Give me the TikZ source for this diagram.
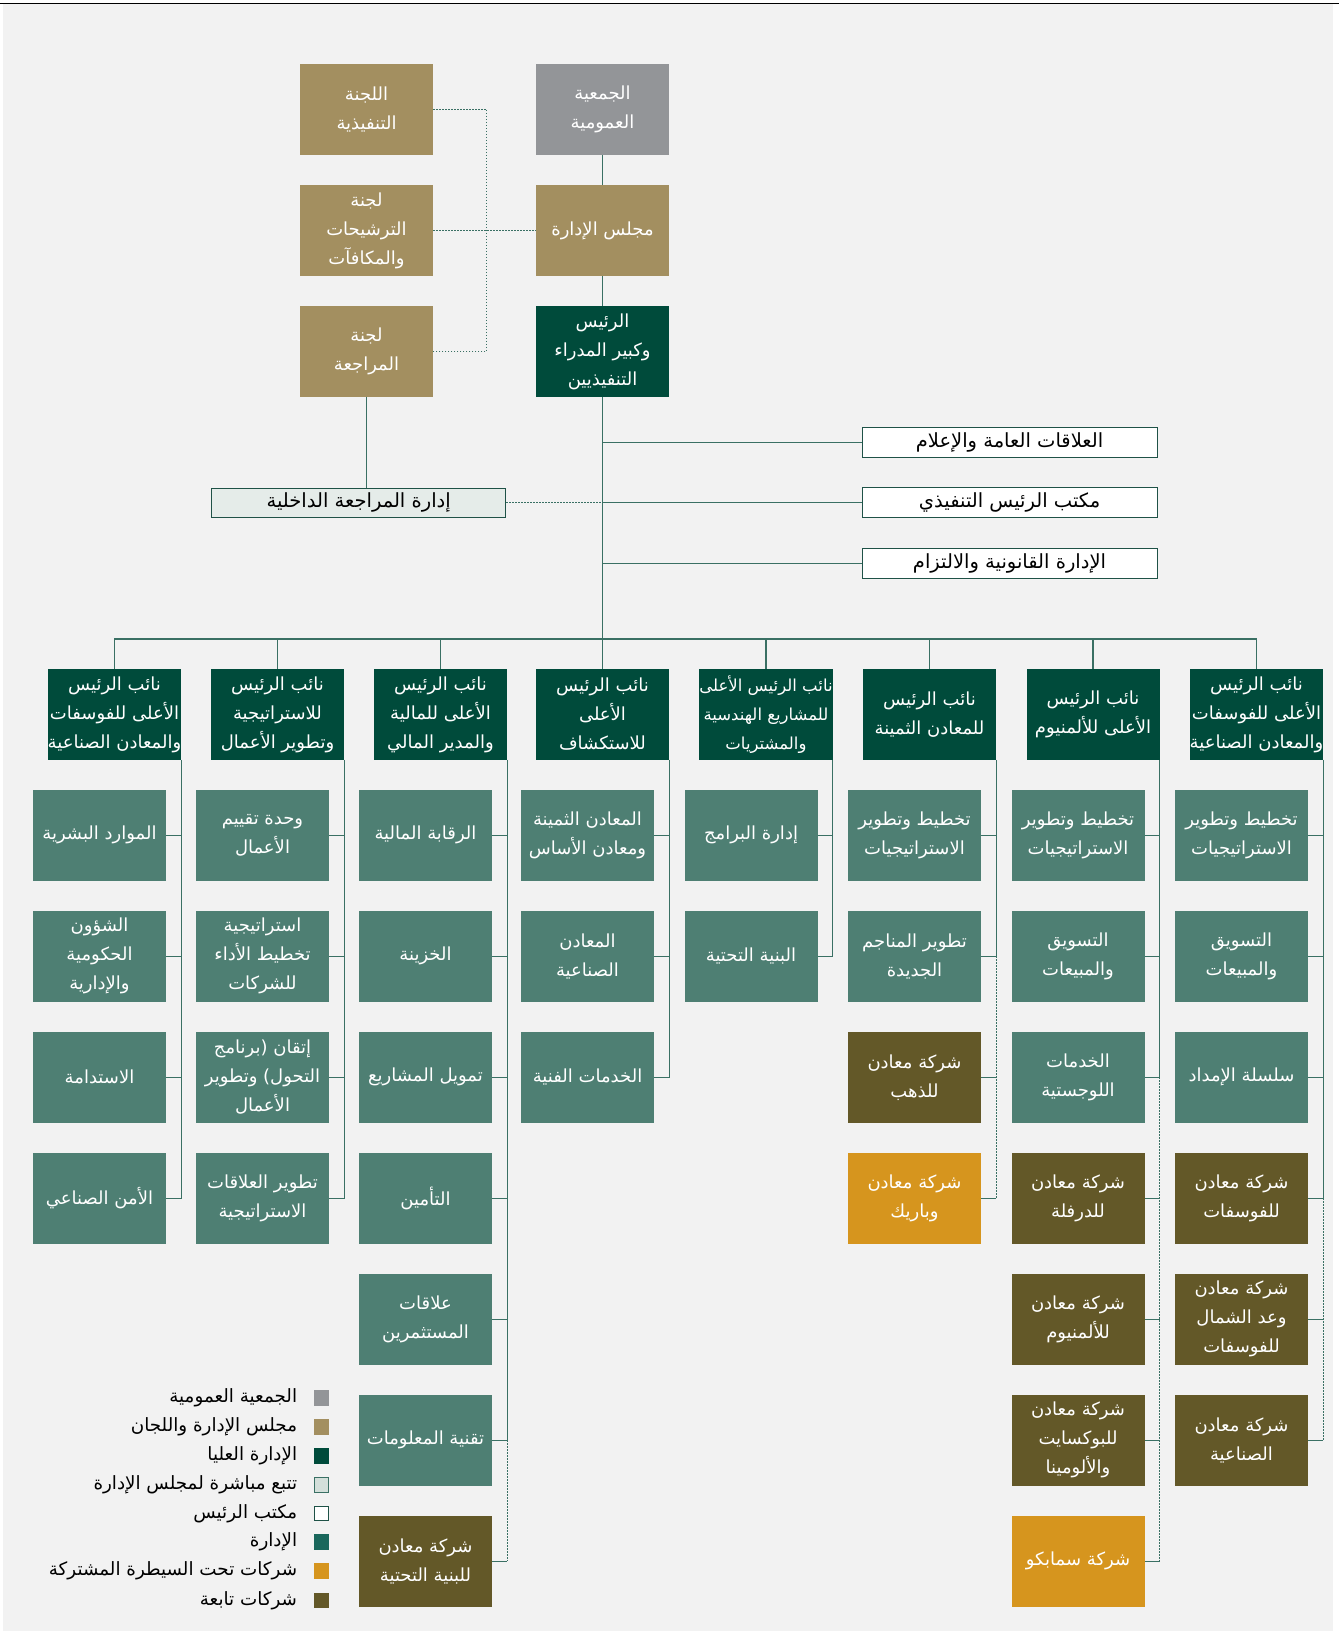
\documentclass[tikz,border=0pt]{standalone}
\usepackage{fontspec}
\newfontfamily\arabicfont[Script=Arabic]{DejaVu Sans}
\TeXXeTstate=1
\usetikzlibrary{positioning}

\definecolor{bgc}{HTML}{F2F2F2}
\definecolor{assemblyc}{HTML}{939598}
\definecolor{boardc}{HTML}{A38F60}
\definecolor{seniorc}{HTML}{004B3B}
\definecolor{deptc}{HTML}{4E7F73}
\definecolor{deptkey}{HTML}{1A675C}
\definecolor{subc}{HTML}{635828}
\definecolor{jointc}{HTML}{D6951E}
\definecolor{auditfill}{HTML}{E5ECE9}
\definecolor{auditkey}{HTML}{D3DFDA}
\definecolor{officeline}{HTML}{1F5247}
\definecolor{linec}{HTML}{3A7064}

\newcommand{\arl}[1]{\beginR #1\endR}

\begin{document}
\begin{tikzpicture}[x=1pt,y=-1pt,
	box/.style={minimum width=133pt,minimum height=90.5pt,inner sep=0pt,align=center,text=white,font=\arabicfont\fontsize{18}{29}\selectfont},
	assembly/.style={box,fill=assemblyc},
	board/.style={box,fill=boardc},
	senior/.style={box,fill=seniorc},
	dept/.style={box,fill=deptc},
	sub/.style={box,fill=subc},
	joint/.style={box,fill=jointc},
	office/.style={draw=officeline,line width=1pt,fill=white,minimum width=295pt,minimum height=30pt,inner sep=0pt,font=\arabicfont\fontsize{19.5}{22}\selectfont},
	solidline/.style={draw=linec,line width=1.3pt},
	dotline/.style={draw=linec,line width=1.3pt,dash pattern=on 1.5pt off 1.5pt},
	key/.style={minimum width=15pt,minimum height=15.5pt,inner sep=0pt},
	keytext/.style={inner sep=0pt,font=\arabicfont\fontsize{18.3}{22}\selectfont}]
	\useasboundingbox (0,0) rectangle (1339,1631);
	\fill[bgc] (3,4) rectangle (1333,1631);
	\draw[black,line width=1.2pt] (0,3.4) -- (1339,3.4);

	% board and committees
	\node[board] (exec) at (366.5,109.5) {\arl{اللجنة}\\\arl{التنفيذية}};
	\node[assembly] (assembly) at (602.5,109.5) {\arl{الجمعية}\\\arl{العمومية}};
	\node[board] (nomin) at (366.5,230.5) {\arl{لجنة}\\\arl{الترشيحات}\\\arl{والمكافآت}};
	\node[board] (bod) at (602.5,230.5) {\arl{مجلس الإدارة}};
	\node[board] (auditc) at (366.5,351.5) {\arl{لجنة}\\\arl{المراجعة}};
	\node[senior] (ceo) at (602.5,351.5) {\arl{الرئيس}\\\arl{وكبير المدراء}\\\arl{التنفيذيين}};

	\node[office,fill=auditfill,minimum width=294pt,minimum height=29pt] (intaudit) at (358.7,502.8) {\arl{إدارة المراجعة الداخلية}};
	\node[office] (pr) at (1009.5,442.3) {\arl{العلاقات العامة والإعلام}};
	\node[office] (ceooffice) at (1009.5,502.7) {\arl{مكتب الرئيس التنفيذي}};
	\node[office] (legal) at (1009.5,563.3) {\arl{الإدارة القانونية والالتزام}};

	% vice presidents
	\node[senior] (vp1) at (114.5,714.5) {\arl{نائب الرئيس}\\\arl{الأعلى للفوسفات}\\\arl{والمعادن الصناعية}};
	\node[senior] (vp2) at (277.5,714.5) {\arl{نائب الرئيس}\\\arl{للاستراتيجية}\\\arl{وتطوير الأعمال}};
	\node[senior] (vp3) at (440.5,714.5) {\arl{نائب الرئيس}\\\arl{الأعلى للمالية}\\\arl{والمدير المالي}};
	\node[senior] (vp4) at (602.5,714.5) {\arl{نائب الرئيس}\\\arl{الأعلى}\\\arl{للاستكشاف}};
	\node[senior,font=\arabicfont\fontsize{16.5}{29}\selectfont] (vp5) at (766,714.5) {\arl{نائب الرئيس الأعلى}\\\arl{للمشاريع الهندسية}\\\arl{والمشتريات}};
	\node[senior] (vp6) at (929.5,714.5) {\arl{نائب الرئيس}\\\arl{للمعادن الثمينة}};
	\node[senior] (vp7) at (1093,714.5) {\arl{نائب الرئيس}\\\arl{الأعلى للألمنيوم}};
	\node[senior] (vp8) at (1256.5,714.5) {\arl{نائب الرئيس}\\\arl{الأعلى للفوسفات}\\\arl{والمعادن الصناعية}};

	% column 1
	\node[dept] (hr) at (99.5,835.3) {\arl{الموارد البشرية}};
	\node[dept] (govaff) at (99.5,956.3) {\arl{الشؤون}\\\arl{الحكومية}\\\arl{والإدارية}};
	\node[dept] (sustain) at (99.5,1077.3) {\arl{الاستدامة}};
	\node[dept] (security) at (99.5,1198.3) {\arl{الأمن الصناعي}};
	% column 2
	\node[dept] (bizeval) at (262.5,835.3) {\arl{وحدة تقييم}\\\arl{الأعمال}};
	\node[dept] (perfplan) at (262.5,956.3) {\arl{استراتيجية}\\\arl{تخطيط الأداء}\\\arl{للشركات}};
	\node[dept] (itqan) at (262.5,1077.3) {\arl{إتقان (برنامج}\\\arl{التحول) وتطوير}\\\arl{الأعمال}};
	\node[dept] (stratrel) at (262.5,1198.3) {\arl{تطوير العلاقات}\\\arl{الاستراتيجية}};
	% column 3
	\node[dept] (finctrl) at (425.5,835.3) {\arl{الرقابة المالية}};
	\node[dept] (treasury) at (425.5,956.3) {\arl{الخزينة}};
	\node[dept] (projfin) at (425.5,1077.3) {\arl{تمويل المشاريع}};
	\node[dept] (insur) at (425.5,1198.3) {\arl{التأمين}};
	\node[dept] (investor) at (425.5,1319.3) {\arl{علاقات}\\\arl{المستثمرين}};
	\node[dept] (infotech) at (425.5,1440.3) {\arl{تقنية المعلومات}};
	\node[sub] (infraco) at (425.5,1561.3) {\arl{شركة معادن}\\\arl{للبنية التحتية}};
	% column 4
	\node[dept] (preciousm) at (587.5,835.3) {\arl{المعادن الثمينة}\\\arl{ومعادن الأساس}};
	\node[dept] (industm) at (587.5,956.3) {\arl{المعادن}\\\arl{الصناعية}};
	\node[dept] (techserv) at (587.5,1077.3) {\arl{الخدمات الفنية}};
	% column 5
	\node[dept] (programs) at (751,835.3) {\arl{إدارة البرامج}};
	\node[dept] (infra) at (751,956.3) {\arl{البنية التحتية}};
	% column 6
	\node[dept] (strat6) at (914.5,835.3) {\arl{تخطيط وتطوير}\\\arl{الاستراتيجيات}};
	\node[dept] (newmines) at (914.5,956.3) {\arl{تطوير المناجم}\\\arl{الجديدة}};
	\node[sub] (goldco) at (914.5,1077.3) {\arl{شركة معادن}\\\arl{للذهب}};
	\node[joint] (barrick) at (914.5,1198.3) {\arl{شركة معادن}\\\arl{وباريك}};
	% column 7
	\node[dept] (strat7) at (1078,835.3) {\arl{تخطيط وتطوير}\\\arl{الاستراتيجيات}};
	\node[dept] (mkt7) at (1078,956.3) {\arl{التسويق}\\\arl{والمبيعات}};
	\node[dept] (logist) at (1078,1077.3) {\arl{الخدمات}\\\arl{اللوجستية}};
	\node[sub] (rolling) at (1078,1198.3) {\arl{شركة معادن}\\\arl{للدرفلة}};
	\node[sub] (alumco) at (1078,1319.3) {\arl{شركة معادن}\\\arl{للألمنيوم}};
	\node[sub] (bauxite) at (1078,1440.3) {\arl{شركة معادن}\\\arl{للبوكسايت}\\\arl{والألومينا}};
	\node[joint] (sammapco) at (1078,1561.3) {\arl{شركة سمابكو}};
	% column 8
	\node[dept] (strat8) at (1241.5,835.3) {\arl{تخطيط وتطوير}\\\arl{الاستراتيجيات}};
	\node[dept] (mkt8) at (1241.5,956.3) {\arl{التسويق}\\\arl{والمبيعات}};
	\node[dept] (supply) at (1241.5,1077.3) {\arl{سلسلة الإمداد}};
	\node[sub] (phosco) at (1241.5,1198.3) {\arl{شركة معادن}\\\arl{للفوسفات}};
	\node[sub] (waad) at (1241.5,1319.3) {\arl{شركة معادن}\\\arl{وعد الشمال}\\\arl{للفوسفات}};
	\node[sub] (industco) at (1241.5,1440.3) {\arl{شركة معادن}\\\arl{الصناعية}};

	% top connectors
	\draw[solidline] (assembly) -- (bod);
	\draw[solidline] (bod) -- (ceo);
	\draw[solidline] (ceo.south) -- (vp4.north);
	\draw[dotline] (exec.east) -- ++(53.6,0) |- (auditc.east);
	\draw[dotline] (nomin.east) -- (bod.west);
	\draw[solidline] (auditc.south) -- (auditc.south |- intaudit.north);
	\draw[dotline] (intaudit.east) -- (intaudit.east -| ceo.south);
	\draw[solidline] (pr.west) -- (pr.west -| ceo.south);
	\draw[solidline] (ceooffice.west) -- (ceooffice.west -| ceo.south);
	\draw[solidline] (legal.west) -- (legal.west -| ceo.south);

	\coordinate (bar) at (0,639);
	\draw[solidline] (vp1.north) -- (vp1.north |- bar) -- (vp8.north |- bar) -- (vp8.north);
	\foreach \v in {vp2,vp3,vp5,vp6,vp7}
		\draw[solidline] (\v.north) -- (\v.north |- bar);

	% column connectors
	\draw[solidline] (vp1.south east) |- (security.east);
	\foreach \n in {hr,govaff,sustain}
		\draw[solidline] (\n.east) -- (\n.east -| vp1.south east);
	\draw[solidline] (vp2.south east) |- (stratrel.east);
	\foreach \n in {bizeval,perfplan,itqan}
		\draw[solidline] (\n.east) -- (\n.east -| vp2.south east);
	\draw[solidline] (vp3.south east) |- (infotech.east);
	\foreach \n in {finctrl,treasury,projfin,insur,investor,infraco}
		\draw[solidline] (\n.east) -- (\n.east -| vp3.south east);
	\draw[dotline] (infotech.east -| vp3.south east) -- (infraco.east -| vp3.south east);
	\draw[solidline] (vp4.south east) |- (techserv.east);
	\foreach \n in {preciousm,industm}
		\draw[solidline] (\n.east) -- (\n.east -| vp4.south east);
	\draw[solidline] (vp5.south east) |- (infra.east);
	\draw[solidline] (programs.east) -- (programs.east -| vp5.south east);
	\draw[solidline] (vp6.south east) |- (newmines.east);
	\foreach \n in {strat6,goldco,barrick}
		\draw[solidline] (\n.east) -- (\n.east -| vp6.south east);
	\draw[dotline] (newmines.east -| vp6.south east) -- (barrick.east -| vp6.south east);
	\draw[solidline] (vp7.south east) |- (logist.east);
	\foreach \n in {strat7,mkt7,rolling,alumco,bauxite,sammapco}
		\draw[solidline] (\n.east) -- (\n.east -| vp7.south east);
	\draw[dotline] (logist.east -| vp7.south east) -- (sammapco.east -| vp7.south east);
	\draw[solidline] (vp8.south east) |- (phosco.east);
	\foreach \n in {strat8,mkt8,supply,waad,industco}
		\draw[solidline] (\n.east) -- (\n.east -| vp8.south east);
	\draw[dotline] (phosco.east -| vp8.south east) -- (industco.east -| vp8.south east);

	% legend
	\node[key,fill=assemblyc] (k1) at (321,1397.8) {};
	\node[key,fill=boardc] (k2) at (321,1426.8) {};
	\node[key,fill=seniorc] (k3) at (321,1455.8) {};
	\node[key,fill=auditkey,draw=linec,line width=1pt,minimum width=14pt,minimum height=14.5pt] (k4) at (321,1484.8) {};
	\node[key,fill=white,draw=officeline,line width=1pt,minimum width=14pt,minimum height=14.5pt] (k5) at (321,1513.5) {};
	\node[key,fill=deptkey] (k6) at (321,1542) {};
	\node[key,fill=jointc] (k7) at (321,1571) {};
	\node[key,fill=subc] (k8) at (321,1600.5) {};
	\node[keytext,left=16pt of k1] {\arl{الجمعية العمومية}};
	\node[keytext,left=16pt of k2] {\arl{مجلس الإدارة واللجان}};
	\node[keytext,left=16pt of k3] {\arl{الإدارة العليا}};
	\node[keytext,left=16pt of k4] {\arl{تتبع مباشرة لمجلس الإدارة}};
	\node[keytext,left=16pt of k5] {\arl{مكتب الرئيس}};
	\node[keytext,left=16pt of k6] {\arl{الإدارة}};
	\node[keytext,left=16pt of k7] {\arl{شركات تحت السيطرة المشتركة}};
	\node[keytext,left=16pt of k8] {\arl{شركات تابعة}};
\end{tikzpicture}
\end{document}
